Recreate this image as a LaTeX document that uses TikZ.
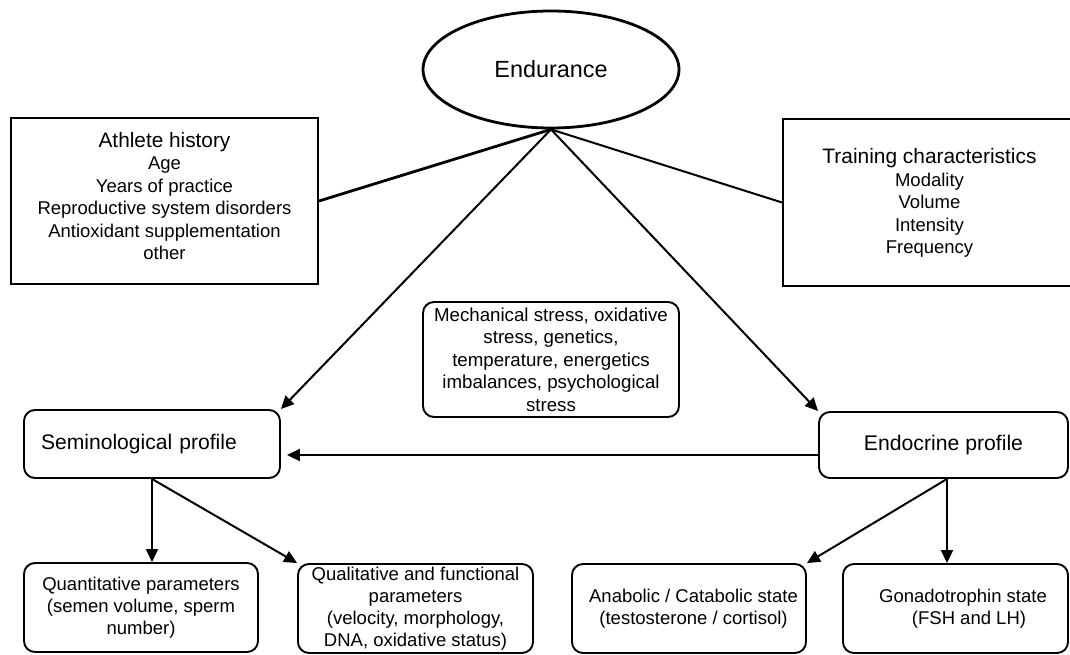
\documentclass[tikz,border=0pt]{standalone}
\usepackage{fontspec}
\setmainfont{Liberation Sans}
\usetikzlibrary{shapes.geometric,arrows.meta}
\begin{document}
\begin{tikzpicture}[x=1pt,y=-1pt,
  sqbox/.style={draw, line width=1.9pt, rectangle, inner sep=0pt},
  rbox/.style={draw, line width=1.9pt, rectangle, rounded corners=11pt, inner sep=0pt, align=center},
  small/.style={font=\fontsize{18.5}{22.5}\selectfont},
  bsmall/.style={font=\fontsize{18.5}{22}\selectfont},
  conn/.style={line width=2pt},
  arr/.style={line width=2pt, -{Triangle[length=13pt,width=12pt]}}]
\clip (0,0) rectangle (1070,655);

% top ellipse
\node[ellipse, draw, line width=2.8pt, minimum width=256pt, minimum height=117pt, inner sep=0pt,
      font=\fontsize{23.4}{28}\selectfont] (end) at (551,69.5) {Endurance};

% athlete history
\node[sqbox, minimum width=307pt, minimum height=166pt] (ath) at (164.5,201) {};
\node[small, align=center] (athtxt) at (164.5,196)
  {{\fontsize{20.8}{23}\selectfont Athlete history}\\Age\\Years of practice\\Reproductive system disorders\\Antioxidant supplementation\\other};

% training characteristics
\node[sqbox, minimum width=293pt, minimum height=167pt] (trn) at (929.5,202.5) {};
\node[small, align=center] (trntxt) at (929.5,203)
  {{\fontsize{20.9}{23}\selectfont Training characteristics}\\Modality\\Volume\\Intensity\\Frequency};

% middle factors
\node[rbox, minimum width=256pt, minimum height=115pt, font=\fontsize{18.7}{22.5}\selectfont] (mid) at (551,359.5)
  {Mechanical stress, oxidative\\stress, genetics,\\temperature, energetics\\imbalances, psychological\\stress};

% profiles
\node[rbox, minimum width=256pt, minimum height=68pt, font=\fontsize{21.1}{25}\selectfont,
      text width=222pt, inner xsep=17pt, align=left] (sem) at (152,444) {Seminological profile};
\node[rbox, minimum width=249pt, minimum height=66pt, font=\fontsize{21.2}{25}\selectfont] (endo) at (943.5,445) {Endocrine profile};

% bottom boxes
\node[rbox, bsmall, minimum width=234pt, minimum height=89pt] (quant) at (141,607.5)
  {Quantitative parameters\\(semen volume, sperm\\number)};
\node[rbox, bsmall, minimum width=235pt, minimum height=89pt] (qual) at (415.5,608.5)
  {Qualitative and functional\\parameters\\(velocity, morphology,\\DNA, oxidative status)};
\node[rbox, bsmall, minimum width=234pt, minimum height=89pt] (ana) at (689,608.5)
  {\hspace*{9pt}Anabolic / Catabolic state\\\hspace*{9pt}(testosterone / cortisol)};
\node[rbox, bsmall, minimum width=225pt, minimum height=89pt] (gon) at (955.5,608.5)
  {\hspace*{15pt}Gonadotrophin state\\\hspace*{27pt}(FSH and LH)};

% connectors
\draw[line width=2.8pt] (ath.east) -- (end.south);
\draw[conn] (end.south) -- (trn.west);
\draw[arr] (end.south) -- (sem.north east);
\draw[arr] (end.south) -- (endo.north west);

\coordinate (hl) at ([yshift=-10pt]endo.west);
\draw[arr, shorten >=6pt] (hl) -- (hl -| sem.east);

\draw[arr] (sem.south) -- (sem.south |- quant.north);
\draw[arr] (sem.south) -- (qual.north west);

\coordinate (es) at ([xshift=3.5pt]endo.south);
\draw[arr] (es) -- (es |- gon.north);
\draw[arr] (es) -- (ana.north east);
\end{tikzpicture}
\end{document}
